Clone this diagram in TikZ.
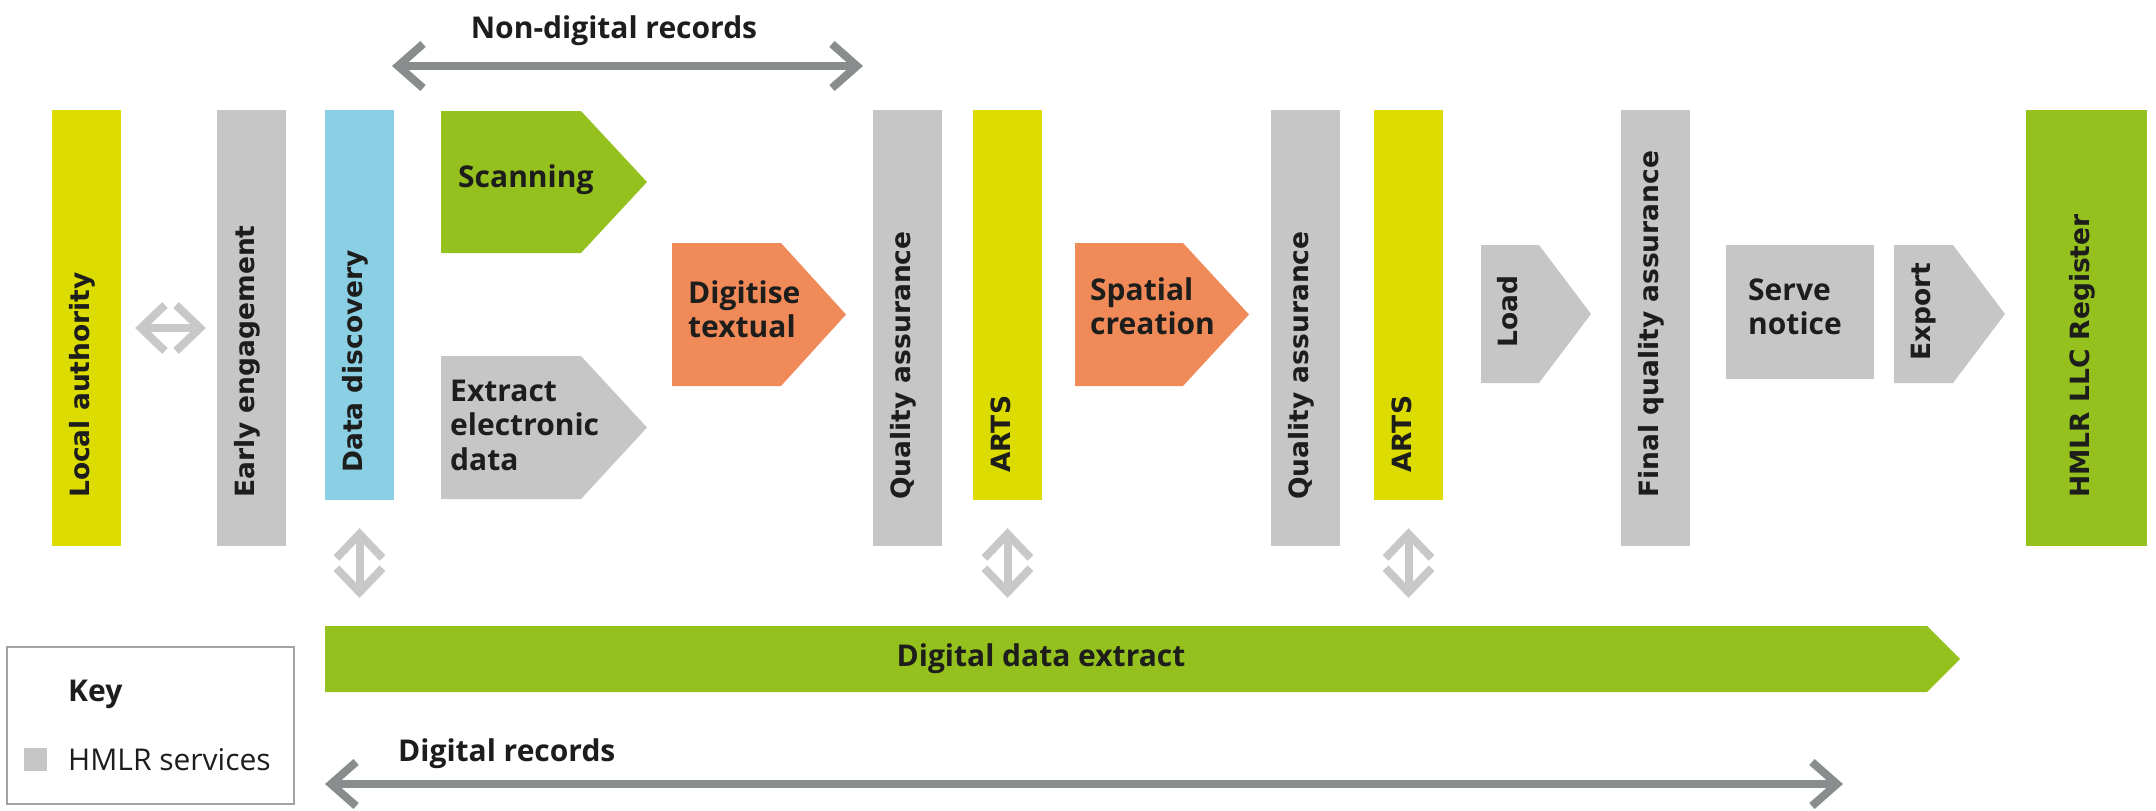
\documentclass[tikz,border=0pt]{standalone}
\usepackage{fontspec}
\setmainfont{Open Sans}
\newfontfamily\vfont{DejaVu Sans}
\usetikzlibrary{arrows.meta}
\definecolor{ink}{HTML}{1D1D1B}
\definecolor{hmgray}{HTML}{C6C6C6}
\definecolor{hmyellow}{HTML}{DCDC00}
\definecolor{hmblue}{HTML}{8ACFE4}
\definecolor{hmgreen}{HTML}{95C11F}
\definecolor{hmorange}{HTML}{F08A59}
\definecolor{arrowdark}{HTML}{8A8D8D}
\definecolor{arrowlight}{HTML}{C8C8C8}
\def\PB#1#2#3#4#5#6{\fill[#1] (#2,#3) -- (#6,#3) -- (#5,{(#3+#4)/2}) -- (#6,#4) -- (#2,#4) -- cycle;}
\tikzset{
  bar/.style={rectangle,inner sep=0pt,minimum width=69pt,minimum height=436pt},
  midbar/.style={bar,minimum height=390pt},
  vtext/.style={font=\vfont\bfseries\fontsize{26.5}{30}\selectfont,text=ink,rotate=90,anchor=west,inner sep=0pt,text height=0.75em,text depth=0.22em},
  htext/.style={font=\bfseries\fontsize{30}{34.5}\selectfont,text=ink,align=left,anchor=west,inner sep=0pt},
  dbl/.style={draw=arrowlight,line width=8pt,<->},
  span/.style={draw=arrowdark,line width=8pt,{Straight Barb[length=25pt,width=44pt,sharp]}-{Straight Barb[length=25pt,width=44pt,sharp]}}
}
\begin{document}
\begin{tikzpicture}[x=1pt,y=-1pt,>={Straight Barb[length=24pt,width=46pt,sharp]}]
\useasboundingbox (0,0) rectangle (2156,811);
\node[bar,fill=hmyellow] (la) at (86.5,328) {};
\node[bar,fill=hmgray] (ee) at (251.5,328) {};
\node[midbar,fill=hmblue] (dd) at (359.5,305) {};
\node[bar,fill=hmgray] (qa1) at (907.5,328) {};
\node[midbar,fill=hmyellow] (arts1) at (1007.5,305) {};
\node[bar,fill=hmgray] (qa2) at (1305.5,328) {};
\node[midbar,fill=hmyellow] (arts2) at (1408.5,305) {};
\node[bar,fill=hmgray] (fqa) at (1655.5,328) {};
\node[bar,fill=hmgreen,minimum width=121pt] (reg) at (2086.5,328) {};
\PB{hmgreen}{441}{111}{253}{647}{581}
\PB{hmgray}{441}{356}{499}{647}{581}
\PB{hmorange}{672}{243}{386}{846}{781}
\PB{hmorange}{1075}{243}{386}{1249}{1183}
\PB{hmgray}{1481}{245}{383}{1591}{1539}
\fill[hmgray] (1726,245) rectangle (1874,379);
\PB{hmgray}{1894}{245}{383}{2005}{1953}
\PB{hmgreen}{325}{626}{692}{1960}{1927}
\coordinate (ddetop) at (0,626);

\node[vtext] (la-t) at (86.5,498) {Local authority};
\node[vtext] (ee-t) at (251.5,498) {Early engagement};
\node[vtext] (dd-t) at (359.5,473) {Data discovery};
\node[vtext] (qa1-t) at (907.5,500) {Quality assurance};
\node[vtext] (arts1-t) at (1007.5,473) {ARTS};
\node[vtext] (qa2-t) at (1305.5,500) {Quality assurance};
\node[vtext] (arts2-t) at (1408.5,473) {ARTS};
\node[vtext] (load) at (1515,348) {Load};
\node[vtext] (fqa-t) at (1655.5,498) {Final quality assurance};
\node[vtext] (export) at (1928,361) {Export};
\node[vtext] (reg-t) at (2086.5,498) {HMLR LLC Register};

\node[htext] (scan) at (458,180) {Scanning};
\node[htext] (extract) at (450,425) {Extract\\electronic\\data};
\node[htext] (digitise) at (688,309) {Digitise\\textual};
\node[htext] (spatial) at (1090,306) {Spatial\\creation};
\node[htext] (serve) at (1748,307) {Serve\\notice};
\node[htext,anchor=center] (dde) at (1041,659) {Digital data extract};

\draw[dbl,shorten <=14pt,shorten >=11pt] (la) -- (ee);
  \draw[dbl,shorten <=28pt,shorten >=28pt] (dd) -- (dd |- ddetop);
  \draw[dbl,shorten <=28pt,shorten >=28pt] (arts1) -- (arts1 |- ddetop);
  \draw[dbl,shorten <=28pt,shorten >=28pt] (arts2) -- (arts2 |- ddetop);

\coordinate (nd-l) at (392,66);
\coordinate (nd-r) at (863,66);
\draw[span] (nd-l) -- (nd-r);
\node[htext,anchor=center] (nd) at (614,31) {Non-digital records};
\coordinate (dr-l) at (325,784);
\coordinate (dr-r) at (1843,784);
\draw[span] (dr-l) -- (dr-r);
\node[htext] (dr) at (398,754) {Digital records};

\node[draw=arrowdark!80,line width=1.6pt,minimum width=287pt,minimum height=157pt,inner sep=0pt] (key) at (150.5,725.5) {};
\node[htext] (key-t) at (68,694) {Key};
\node[fill=hmgray,minimum size=23pt,inner sep=0pt] (key-sq) at (35.5,759.5) {};
\node[htext,font=\fontsize{30}{34.5}\selectfont] (key-s) at (68,760) {HMLR services};
\end{tikzpicture}
\end{document}
